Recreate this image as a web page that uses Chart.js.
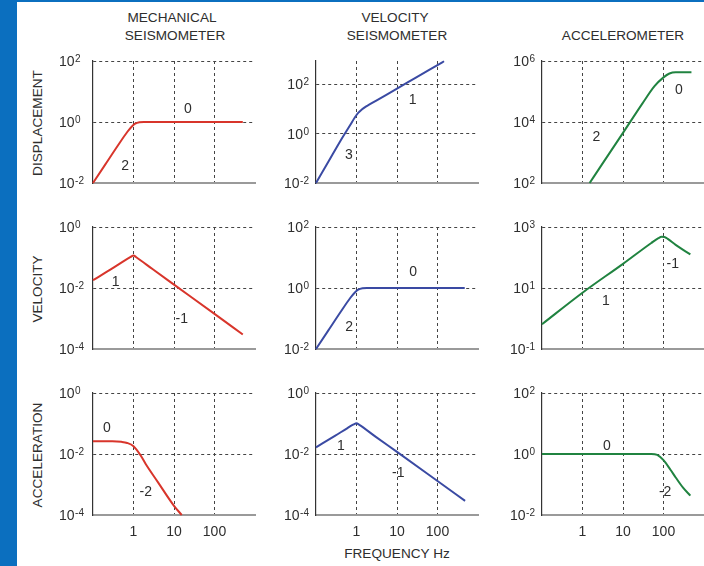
<!DOCTYPE html>
<html><head><meta charset="utf-8">
<script src="https://cdn.jsdelivr.net/npm/chart.js@4.4.1/dist/chart.umd.min.js"></script>
<style>
html,body{margin:0;padding:0;background:#fff;width:704px;height:566px;overflow:hidden;position:relative;font-family:"Liberation Sans",Arial,sans-serif;color:#2e2e2e}
#bar{position:absolute;left:0;top:0;width:17px;height:566px;background:#0b6fbf}
#topbar{position:absolute;left:0;top:0;width:704px;height:2px;background:#0b6fbf}
canvas{position:absolute}
.t{position:absolute;font-size:13.6px;white-space:nowrap;transform:translate(-50%,-50%);line-height:1}
.r{position:absolute;font-size:13.6px;white-space:nowrap;transform:translate(-50%,-50%) rotate(-90deg);line-height:1}
</style></head><body>
<div id="bar"></div><div id="topbar"></div>
<div class="t" style="left:172px;top:18px">MECHANICAL</div>
<div class="t" style="left:175px;top:35.5px">SEISMOMETER</div>
<div class="t" style="left:395px;top:18px">VELOCITY</div>
<div class="t" style="left:397px;top:35.5px">SEISMOMETER</div>
<div class="t" style="left:623px;top:35.5px">ACCELEROMETER</div>
<div class="r" style="left:38px;top:123px">DISPLACEMENT</div>
<div class="r" style="left:38px;top:289px">VELOCITY</div>
<div class="r" style="left:38px;top:455px">ACCELERATION</div>
<div class="t" style="left:397px;top:554px">FREQUENCY Hz</div>
<script>
// ---- data ----
const xTickValues = [0.1, 1, 10, 100, 1000];
const xLabelValues = [1, 10, 100];

// Row 1: displacement
const mechDispF = [0.1, 0.2, 0.4, 0.7, 0.9, 1.1, 1.4, 1.8, 3, 10, 100, 500];
const mechDispV = [0.01, 0.04, 0.16, 0.47, 0.7, 0.88, 0.98, 1, 1, 1, 1, 1];
const mechDispTicks = [0.01, 1, 100];
const mechDispNotes = [['2', 0.62, 0.036], ['0', 22, 2.7]];

const velDispF = [0.1, 0.2, 0.4, 0.7, 0.9, 1.1, 1.35, 1.7, 2, 3, 10, 30, 100, 145];
const velDispV = [0.01, 0.07, 0.5, 2.2, 4.3, 6.8, 9.3, 12.2, 14.2, 20.9, 65, 186, 583, 830];
const velDispTicks = [0.01, 1, 100];
const velDispNotes = [['3', 0.65, 0.13], ['1', 24.5, 22]];

const accDispF = [1.5, 3, 10, 30, 60, 100, 140, 200, 490];
const accDispV = [100, 400, 4400, 40000, 150000, 290000, 390000, 430000, 430000];
const accDispTicks = [100, 10000, 1000000];
const accDispNotes = [['2', 2.2, 3100], ['0', 240, 107000]];

// Row 2: velocity
const mechVelF = [0.1, 0.3, 0.6, 0.85, 1.0, 1.15, 3, 10, 100, 500];
const mechVelV = [0.018, 0.044, 0.079, 0.104, 0.117, 0.104, 0.041, 0.0129, 0.00142, 0.0003];
const mechVelTicks = [0.0001, 0.01, 1];
const mechVelNotes = [['1', 0.36, 0.016], ['-1', 15.5, 0.00095]];

const velVelF = [0.1, 0.2, 0.4, 0.7, 0.9, 1.1, 1.4, 1.8, 3, 10, 100, 470];
const velVelV = [0.01, 0.04, 0.16, 0.47, 0.7, 0.88, 0.98, 1, 1, 1, 1, 1];
const velVelTicks = [0.01, 1, 100];
const velVelNotes = [['0', 25, 3.2], ['2', 0.66, 0.051]];

const accVelF = [0.1, 1, 10, 50, 75, 90, 105, 130, 200, 460];
const accVelV = [0.65, 7, 62, 300, 430, 475, 470, 400, 260, 126];
const accVelTicks = [0.1, 10, 1000];
const accVelNotes = [['-1', 169, 60], ['1', 3.8, 3.6]];

// Row 3: acceleration
const mechAccF = [0.1, 0.3, 0.5, 0.7, 1, 1.5, 2, 4, 10, 15.5];
const mechAccV = [0.026, 0.026, 0.025, 0.023, 0.018, 0.009, 0.0047, 0.0012, 0.0002, 0.0001];
const mechAccTicks = [0.0001, 0.01, 1];
const mechAccNotes = [['0', 0.22, 0.069], ['-2', 2.0, 0.00055]];

const velAccF = [0.1, 0.3, 0.6, 0.85, 1.0, 1.15, 3, 10, 100, 480];
const velAccV = [0.0166, 0.040, 0.071, 0.093, 0.102, 0.092, 0.0365, 0.0117, 0.0013, 0.00029];
const velAccTicks = [0.0001, 0.01, 1];
const velAccNotes = [['1', 0.41, 0.018], ['-1', 10.7, 0.0023]];

const accAccF = [0.1, 1, 10, 50, 70, 100, 150, 200, 300, 460];
const accAccV = [1, 1, 1, 1, 0.93, 0.63, 0.3, 0.17, 0.08, 0.043];
const accAccTicks = [0.01, 1, 100];
const accAccNotes = [['0', 4, 1.8], ['-2', 110, 0.057]];

const yMaxes = [[100, 850, 1000000], [1, 100, 1000], [1, 1, 100]];

// ---- layout / style ----
const colLeft = [93, 316, 542], rowTop = [61, 227, 393];
const plotW = 162, plotH = 122;
const padL = 60, padT = 10, padR = 10, padB = 30;
const lineColors = ['#d8352b', '#3a4aa3', '#208340'];
const gridColor = '#444';
const textColor = '#2e2e2e';
const baseFont = '14px "Liberation Sans", Arial, sans-serif';
const expFont = '10px "Liberation Sans", Arial, sans-serif';

const panels = [
  {r:0,c:0,f:mechDispF,v:mechDispV,t:mechDispTicks,n:mechDispNotes},
  {r:0,c:1,f:velDispF,v:velDispV,t:velDispTicks,n:velDispNotes},
  {r:0,c:2,f:accDispF,v:accDispV,t:accDispTicks,n:accDispNotes},
  {r:1,c:0,f:mechVelF,v:mechVelV,t:mechVelTicks,n:mechVelNotes},
  {r:1,c:1,f:velVelF,v:velVelV,t:velVelTicks,n:velVelNotes},
  {r:1,c:2,f:accVelF,v:accVelV,t:accVelTicks,n:accVelNotes},
  {r:2,c:0,f:mechAccF,v:mechAccV,t:mechAccTicks,n:mechAccNotes},
  {r:2,c:1,f:velAccF,v:velAccV,t:velAccTicks,n:velAccNotes},
  {r:2,c:2,f:accAccF,v:accAccV,t:accAccTicks,n:accAccNotes}
];

function labelPlugin(p){
  return {
    id:'lbl'+p.r+p.c,
    afterDraw(chart){
      const ctx = chart.ctx, ys = chart.scales.y, xs = chart.scales.x, a = chart.chartArea;
      ctx.save();
      ctx.fillStyle = textColor;
      ctx.textBaseline = 'alphabetic';
      ctx.textAlign = 'left';
      p.t.forEach(v => {
        const y = ys.getPixelForValue(v);
        const e = String(Math.round(Math.log10(v)));
        ctx.font = baseFont; const bw = ctx.measureText('10').width;
        ctx.font = expFont; const ew = ctx.measureText(e).width;
        const bx = p.c === 0 ? a.left - 34 : a.left - 7 - ew - bw - 0.5;
        ctx.font = baseFont; ctx.fillText('10', bx, y + 5);
        ctx.font = expFont; ctx.fillText(e, bx + bw + 0.5, y + 1);
      });
      ctx.font = baseFont;
      ctx.textAlign = 'center';
      ctx.textBaseline = 'middle';
      if (p.r === 2) {
        xLabelValues.forEach(v => ctx.fillText(String(v), xs.getPixelForValue(v), a.bottom + 17));
      }
      p.n.forEach(([txt, fx, fy]) => ctx.fillText(txt, xs.getPixelForValue(fx), ys.getPixelForValue(fy)));
      ctx.restore();
    }
  };
}

panels.forEach(p => {
  const cv = document.createElement('canvas');
  cv.width = plotW + padL + padR; cv.height = plotH + padT + padB;
  cv.style.left = (colLeft[p.c] - padL) + 'px';
  cv.style.top = (rowTop[p.r] - padT) + 'px';
  document.body.appendChild(cv);
  const yMin = p.t[0], yMax = yMaxes[p.r][p.c];
  new Chart(cv, {
    type: 'line',
    data: { datasets: [{
      data: p.f.map((x, i) => ({x: x, y: p.v[i]})),
      borderColor: lineColors[p.c], borderWidth: 2, pointRadius: 0,
      cubicInterpolationMode: 'monotone', fill: false, clip: 4
    }]},
    options: {
      responsive: false, animation: false, devicePixelRatio: 1,
      layout: { padding: { left: padL, top: padT, right: padR, bottom: padB } },
      plugins: { legend: { display: false }, tooltip: { enabled: false } },
      scales: {
        x: {
          type: 'logarithmic', position: 'bottom', min: 0.1, max: 1000,
          afterBuildTicks: s => { s.ticks = xTickValues.map(v => ({value: v})); },
          ticks: { display: false },
          grid: { drawTicks: false, lineWidth: 1,
            color: c => (c.tick && xLabelValues.includes(c.tick.value)) ? gridColor : 'rgba(0,0,0,0)' },
          border: { display: true, color: '#9a9a9a', width: 2, dash: [3, 3] }
        },
        y: {
          type: 'logarithmic', position: 'left', min: yMin, max: yMax,
          afterBuildTicks: s => { s.ticks = p.t.map(v => ({value: v})); },
          ticks: { display: false },
          grid: { drawTicks: false, lineWidth: 1,
            color: c => (c.tick && c.tick.value > yMin * 1.001) ? gridColor : 'rgba(0,0,0,0)' },
          border: { display: true, color: '#333', width: 1.2, dash: [3, 3] }
        }
      }
    },
    plugins: [labelPlugin(p)]
  });
});
</script>
</body></html>
